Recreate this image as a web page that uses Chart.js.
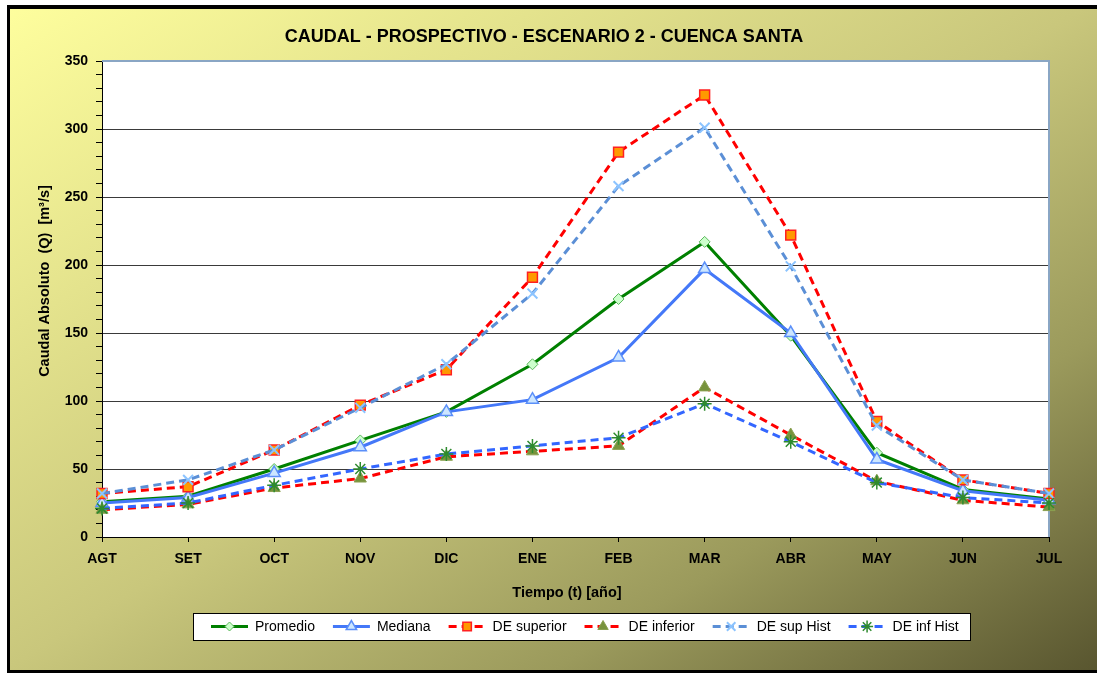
<!DOCTYPE html>
<html lang="es">
<head>
<meta charset="utf-8">
<title>Caudal - Prospectivo - Escenario 2 - Cuenca Santa</title>
<script src="https://cdn.jsdelivr.net/npm/chart.js@4.4.0/dist/chart.umd.min.js"></script>
<style>
  html, body { margin: 0; padding: 0; background: #fff; }
  canvas { display: block; }
</style>
</head>
<body>
<canvas id="cv" width="1097" height="673"></canvas>
<script>
// ---------- Données ----------
const MESES       = ['AGT','SET','OCT','NOV','DIC','ENE','FEB','MAR','ABR','MAY','JUN','JUL'];
const PROMEDIO    = [26, 30, 50, 71,  92, 127, 175, 217, 148, 62, 35, 28];
const MEDIANA     = [25, 29, 47, 66,  92, 101, 132, 197, 150, 57, 34, 27];
const DE_SUP      = [32, 37, 64, 97, 123, 191, 283, 325, 222, 85, 42, 32];
const DE_INF      = [20, 24, 36, 43,  59,  63,  67, 110,  75, 41, 27, 22];
const DE_SUP_HIST = [32, 42, 64, 95, 127, 179, 258, 301, 199, 82, 42, 32];
const DE_INF_HIST = [21, 25, 38, 50,  61,  67,  73,  98,  70, 40, 29, 25];

const Y_MIN = 0, Y_MAX = 350, Y_MAJOR = 50, Y_MINOR = 10;

const TITULO   = 'CAUDAL - PROSPECTIVO - ESCENARIO 2 - CUENCA SANTA';
const TITULO_X = 'Tiempo (t) [año]';
const TITULO_Y = 'Caudal Absoluto  (Q)  [m³/s]';

const FONT = "'Liberation Sans', Arial, sans-serif";

// ---------- Fond, cadre, titres et légende (plugin maison) ----------
const decor = {
  id: 'decor',
  beforeDraw(chart) {
    const { ctx, width, height, chartArea: a } = chart;
    ctx.save();
    ctx.fillStyle = '#fff';
    ctx.fillRect(0, 0, width, height);
    ctx.fillStyle = '#000';
    ctx.fillRect(7, 5, width, height);
    const g = ctx.createLinearGradient(0, 0, 600, 978);
    g.addColorStop(0,    '#ffff9e');
    g.addColorStop(0.5,  '#c9c77c');
    g.addColorStop(0.75, '#9b9a5c');
    g.addColorStop(1,    '#58552f');
    ctx.fillStyle = g;
    ctx.fillRect(10, 9, width, 670 - 9);
    ctx.fillStyle = '#fff';
    ctx.fillRect(a.left, a.top, a.right - a.left, a.bottom - a.top);
    ctx.restore();
  },
  beforeDatasetsDraw(chart) {
    const { ctx, chartArea: a } = chart;
    ctx.save();
    ctx.strokeStyle = '#8aa6c4';
    ctx.lineWidth = 2;
    ctx.beginPath();
    ctx.moveTo(a.left, a.top);
    ctx.lineTo(a.right, a.top);
    ctx.lineTo(a.right, a.bottom);
    ctx.stroke();
    ctx.restore();
  },
  afterDraw(chart) {
    const { ctx } = chart;
    ctx.save();
    ctx.fillStyle = '#000';
    ctx.textAlign = 'center';
    ctx.textBaseline = 'middle';

    // Titre
    ctx.font = `bold 18px ${FONT}`;
    ctx.fillText(TITULO, 544, 37);

    // Titres d'axes
    ctx.font = `bold 14.5px ${FONT}`;
    ctx.fillText(TITULO_X, 567, 593);
    ctx.translate(45, 281);
    ctx.rotate(-Math.PI / 2);
    ctx.fillText(TITULO_Y, 0, 0);
    ctx.setTransform(1, 0, 0, 1, 0, 0);

    // Légende
    const bx = 193, by = 613, bw = 777, bh = 27, ly = by + bh / 2;
    ctx.fillStyle = '#fff';
    ctx.fillRect(bx, by, bw, bh);
    ctx.strokeStyle = '#000';
    ctx.lineWidth = 1;
    ctx.strokeRect(bx + 0.5, by + 0.5, bw, bh);

    ctx.font = `14px ${FONT}`;
    ctx.textAlign = 'left';
    let x = 211;
    chart.data.datasets.forEach(ds => {
      const x2 = x + 37;
      ctx.save();
      ctx.strokeStyle = ds.borderColor;
      ctx.lineWidth = ds.borderWidth;
      ctx.setLineDash(ds.borderDash || []);
      ctx.beginPath();
      ctx.moveTo(x, ly);
      ctx.lineTo(x2, ly);
      ctx.stroke();
      ctx.setLineDash([]);
      ctx.fillStyle = ds.pointBackgroundColor;
      ctx.strokeStyle = ds.pointBorderColor;
      ctx.lineWidth = ds.pointBorderWidth;
      Chart.helpers.drawPoint(ctx, {
        pointStyle: ds.pointStyle, radius: ds.pointRadius - 1, rotation: 0, borderWidth: ds.pointBorderWidth
      }, (x + x2) / 2, ly);
      ctx.restore();
      ctx.fillStyle = '#000';
      ctx.fillText(ds.label, x2 + 7, ly + 1);
      x = x2 + 7 + ctx.measureText(ds.label).width + 18;
    });
    ctx.restore();
  }
};

// ---------- Séries ----------
function serie(label, data, color, dash, style, radius, fill, border, bw) {
  return {
    label, data,
    borderColor: color, borderWidth: 3, borderDash: dash,
    pointStyle: style, pointRadius: radius,
    pointBackgroundColor: fill, pointBorderColor: border, pointBorderWidth: bw,
    tension: 0, fill: false
  };
}

const datasets = [
  serie('Promedio',    PROMEDIO,    '#008000', [],     'rectRot',  5.5, '#ccffcc', '#5cb85c', 1),
  serie('Mediana',     MEDIANA,     '#4478f8', [],     'triangle', 7,   '#cce6ff', '#5b8ff9', 1.5),
  serie('DE superior', DE_SUP,      '#ff0000', [8, 5], 'rect',     7,   '#ff9900', '#ff2020', 1.5),
  serie('DE inferior', DE_INF,      '#ff0000', [8, 5], 'triangle', 7,   '#77933c', '#8aa050', 1),
  serie('DE sup Hist', DE_SUP_HIST, '#5b8fd6', [8, 5], 'crossRot', 7,   '#99ccff', '#8cc4ff', 2),
  serie('DE inf Hist', DE_INF_HIST, '#3366ff', [8, 5], 'star',     7,   '#2e8b2e', '#2e8b2e', 1.5)
];
// Comme Excel : la dernière série est dessinée au-dessus.
datasets.forEach((d, i) => { d.order = datasets.length - i; });

new Chart(document.getElementById('cv'), {
  type: 'line',
  data: { labels: MESES, datasets },
  plugins: [decor],
  options: {
    responsive: false,
    animation: false,
    layout: { padding: { top: 61, right: 48, left: 0, bottom: 0 } },
    plugins: { legend: { display: false }, title: { display: false }, tooltip: { enabled: false } },
    scales: {
      x: {
        offset: false,
        afterFit: s => { s.height = 136; },
        ticks: { padding: 9, color: '#000', autoSkip: false, maxRotation: 0,
                 font: { family: FONT, size: 14, weight: 'bold' } },
        grid: { drawOnChartArea: false, tickLength: 5, tickColor: '#000' },
        border: { color: '#000', width: 1 }
      },
      y: {
        min: Y_MIN, max: Y_MAX,
        afterFit: s => { s.width = 102; },
        ticks: { stepSize: Y_MINOR, autoSkip: false, padding: 8, color: '#000',
                 font: { family: FONT, size: 14, weight: 'bold' },
                 callback: v => (v % Y_MAJOR === 0 ? v : '') },
        grid: {
          color: c => (c.tick && c.tick.value % Y_MAJOR === 0 && c.tick.value > Y_MIN) ? '#3a3a3a' : 'rgba(0,0,0,0)',
          tickColor: '#000', tickLength: 6, lineWidth: 1
        },
        border: { color: '#000', width: 1 }
      }
    }
  }
});
</script>
</body>
</html>
